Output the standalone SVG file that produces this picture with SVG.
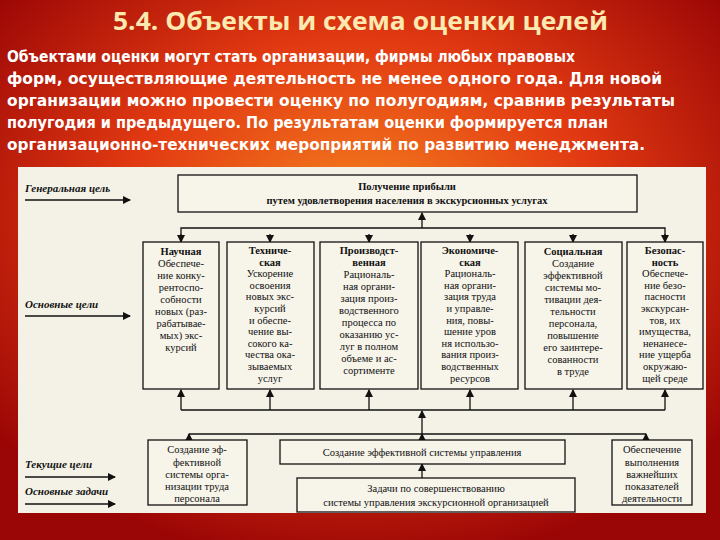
<svg xmlns="http://www.w3.org/2000/svg" width="720" height="540" viewBox="0 0 720 540">
<defs>
<radialGradient id="bg" cx="50%" cy="40%" r="65%">
<stop offset="0" stop-color="#f5821f"/><stop offset="0.5" stop-color="#e23a12"/><stop offset="1" stop-color="#9a0505"/>
</radialGradient>
<marker id="ar" markerWidth="8" markerHeight="8" refX="7" refY="4" orient="auto" markerUnits="userSpaceOnUse"><path d="M0,0 L8,4 L0,8 Z" fill="#111"/></marker>
<style>
.t{font-family:"Liberation Serif",serif;font-size:10.5px;fill:#111;text-anchor:middle}
.b{font-weight:bold}
.n{font-family:"Liberation Serif",serif;font-size:11px;fill:#111;font-weight:bold;font-style:italic}
.bx{fill:#f7f4ea;stroke:#111;stroke-width:1.3}
.ln{stroke:#111;stroke-width:1.3;fill:none}
.p{font-family:"DejaVu Sans",sans-serif;font-size:15px;fill:#fff;font-weight:bold}
</style>
</defs>
<rect width="720" height="540" fill="url(#bg)"/>
<text x="113" y="30" textLength="495" lengthAdjust="spacingAndGlyphs" font-family="'Open Sans',sans-serif" font-size="25" font-weight="bold" fill="#fbe9b0">5.4. Объекты и схема оценки целей</text>
<text class="p" x="7" y="62" textLength="568" lengthAdjust="spacingAndGlyphs">Объектами оценки могут стать организации, фирмы любых правовых</text>
<text class="p" x="7" y="84" textLength="655" lengthAdjust="spacingAndGlyphs">форм, осуществляющие деятельность не менее одного года. Для новой</text>
<text class="p" x="7" y="106" textLength="668" lengthAdjust="spacingAndGlyphs">организации можно провести оценку по полугодиям, сравнив результаты</text>
<text class="p" x="7" y="128" textLength="601" lengthAdjust="spacingAndGlyphs">полугодия и предыдущего. По результатам оценки формируется план</text>
<text class="p" x="7" y="150" textLength="638" lengthAdjust="spacingAndGlyphs">организационно-технических мероприятий по развитию менеджмента.</text>
<rect x="18" y="167" width="688" height="346" fill="#f4f1e6"/>
<g id="labels">
<text class="n" x="25" y="192">Генеральная цель</text>
<text class="n" x="25" y="308">Основные цели</text>
<text class="n" x="25" y="468">Текущие цели</text>
<text class="n" x="25" y="495">Основные задачи</text>
</g>
<g id="connectors">
<line class="ln" x1="25" y1="200" x2="130" y2="200" marker-end="url(#ar)"/>
<line class="ln" x1="25" y1="316" x2="130" y2="316" marker-end="url(#ar)"/>
<line class="ln" x1="25" y1="477" x2="115" y2="477" marker-end="url(#ar)"/>
<line class="ln" x1="25" y1="504" x2="115" y2="504" marker-end="url(#ar)"/>
<path class="ln" d="M181,242 V228 H665 V242"/>
<line class="ln" x1="422" y1="228" x2="422" y2="213" marker-end="url(#ar)"/>
<line class="ln" x1="181" y1="234" x2="181" y2="242" marker-end="url(#ar)"/>
<line class="ln" x1="270" y1="234" x2="270" y2="242" marker-end="url(#ar)"/>
<line class="ln" x1="369" y1="234" x2="369" y2="242" marker-end="url(#ar)"/>
<line class="ln" x1="470" y1="234" x2="470" y2="242" marker-end="url(#ar)"/>
<line class="ln" x1="573" y1="234" x2="573" y2="242" marker-end="url(#ar)"/>
<line class="ln" x1="665" y1="234" x2="665" y2="242" marker-end="url(#ar)"/>
<path class="ln" d="M181,410 H665"/>
<line class="ln" x1="181" y1="410" x2="181" y2="390" marker-end="url(#ar)"/>
<line class="ln" x1="270" y1="410" x2="270" y2="390" marker-end="url(#ar)"/>
<line class="ln" x1="369" y1="410" x2="369" y2="390" marker-end="url(#ar)"/>
<line class="ln" x1="470" y1="410" x2="470" y2="390" marker-end="url(#ar)"/>
<line class="ln" x1="573" y1="410" x2="573" y2="390" marker-end="url(#ar)"/>
<line class="ln" x1="665" y1="410" x2="665" y2="390" marker-end="url(#ar)"/>
<path class="ln" d="M189,434 H646"/>
<line class="ln" x1="422" y1="434" x2="422" y2="411" marker-end="url(#ar)"/>
<line class="ln" x1="189" y1="440" x2="189" y2="434" marker-end="url(#ar)"/>
<line class="ln" x1="422" y1="440" x2="422" y2="434" marker-end="url(#ar)"/>
<line class="ln" x1="646" y1="440" x2="646" y2="434" marker-end="url(#ar)"/>
<line class="ln" x1="422" y1="478" x2="422" y2="464" marker-end="url(#ar)"/>
</g>
<g id="top"><rect class="bx" x="178" y="175" width="459" height="37"/>
<text class="t b" x="407" y="190">Получение прибыли</text><text class="t b" x="407" y="204">путем удовлетворения населения в экскурсионных услугах</text></g>
<g id="n1"><rect class="bx" x="143" y="242" width="76" height="147"/>
<text class="t b" x="181" y="255">Научная</text>
<text class="t" x="181" y="267">Обеспече-</text><text class="t" x="181" y="279">ние конку-</text><text class="t" x="181" y="291">рентоспо-</text><text class="t" x="181" y="303">собности</text><text class="t" x="181" y="315">новых (раз-</text><text class="t" x="181" y="327">рабатывае-</text><text class="t" x="181" y="339">мых) экс-</text><text class="t" x="181" y="351">курсий</text></g>
<g id="n2"><rect class="bx" x="227" y="242" width="87" height="147"/>
<text class="t b" x="270" y="254">Техниче-</text><text class="t b" x="270" y="266">ская</text>
<text class="t" x="270" y="277">Ускорение</text><text class="t" x="270" y="289">освоения</text><text class="t" x="270" y="300">новых экс-</text><text class="t" x="270" y="312">курсий</text><text class="t" x="270" y="324">и обеспе-</text><text class="t" x="270" y="335">чение вы-</text><text class="t" x="270" y="347">сокого ка-</text><text class="t" x="270" y="358">чества ока-</text><text class="t" x="270" y="370">зываемых</text><text class="t" x="270" y="382">услуг</text></g>
<g id="n3"><rect class="bx" x="320" y="242" width="98" height="147"/>
<text class="t b" x="369" y="254">Производст-</text><text class="t b" x="369" y="266">венная</text>
<text class="t" x="369" y="278">Рациональ-</text><text class="t" x="369" y="290">ная органи-</text><text class="t" x="369" y="302">зация произ-</text><text class="t" x="369" y="314">водственного</text><text class="t" x="369" y="326">процесса по</text><text class="t" x="369" y="338">оказанию ус-</text><text class="t" x="369" y="350">луг в полном</text><text class="t" x="369" y="362">объеме и ас-</text><text class="t" x="369" y="374">сортименте</text></g>
<g id="n4"><rect class="bx" x="421" y="242" width="97" height="147"/>
<text class="t b" x="470" y="254">Экономиче-</text><text class="t b" x="470" y="266">ская</text>
<text class="t" x="470" y="277">Рациональ-</text><text class="t" x="470" y="289">ная органи-</text><text class="t" x="470" y="300">зация труда</text><text class="t" x="470" y="312">и управле-</text><text class="t" x="470" y="324">ния, повы-</text><text class="t" x="470" y="335">шение уров</text><text class="t" x="470" y="347">ня использо-</text><text class="t" x="470" y="358">вания произ-</text><text class="t" x="470" y="370">водственных</text><text class="t" x="470" y="382">ресурсов</text></g>
<g id="n5"><rect class="bx" x="525" y="242" width="97" height="147"/>
<text class="t b" x="573" y="255">Социальная</text>
<text class="t" x="573" y="267">Создание</text><text class="t" x="573" y="279">эффективной</text><text class="t" x="573" y="291">системы мо-</text><text class="t" x="573" y="303">тивации дея-</text><text class="t" x="573" y="315">тельности</text><text class="t" x="573" y="327">персонала,</text><text class="t" x="573" y="339">повышение</text><text class="t" x="573" y="351">его заинтере-</text><text class="t" x="573" y="363">сованности</text><text class="t" x="573" y="375">в труде</text></g>
<g id="n6"><rect class="bx" x="627" y="242" width="76" height="147"/>
<text class="t b" x="665" y="254">Безопас-</text><text class="t b" x="665" y="266">ность</text>
<text class="t" x="665" y="277">Обеспече-</text><text class="t" x="665" y="289">ние безо-</text><text class="t" x="665" y="300">пасности</text><text class="t" x="665" y="312">экскурсан-</text><text class="t" x="665" y="324">тов, их</text><text class="t" x="665" y="335">имущества,</text><text class="t" x="665" y="347">ненанесе-</text><text class="t" x="665" y="358">ние ущерба</text><text class="t" x="665" y="370">окружаю-</text><text class="t" x="665" y="382">щей среде</text></g>
<g id="b1"><rect class="bx" x="148" y="440" width="99" height="65"/>
<text class="t" x="197" y="453">Создание эф-</text><text class="t" x="197" y="466">фективной</text><text class="t" x="197" y="478">системы орга-</text><text class="t" x="197" y="490">низации труда</text><text class="t" x="197" y="502">персонала</text></g>
<g id="b2"><rect class="bx" x="280" y="440" width="285" height="24"/>
<text class="t" x="422" y="456">Создание эффективной системы управления</text></g>
<g id="b3"><rect class="bx" x="297" y="478" width="278" height="34"/>
<text class="t" x="436" y="492">Задачи по совершенствованию</text><text class="t" x="436" y="506">системы управления экскурсионной организацией</text></g>
<g id="b4"><rect class="bx" x="612" y="440" width="80" height="65"/>
<text class="t" x="652" y="453">Обеспечение</text><text class="t" x="652" y="466">выполнения</text><text class="t" x="652" y="478">важнейших</text><text class="t" x="652" y="490">показателей</text><text class="t" x="652" y="502">деятельности</text></g>
</svg>
